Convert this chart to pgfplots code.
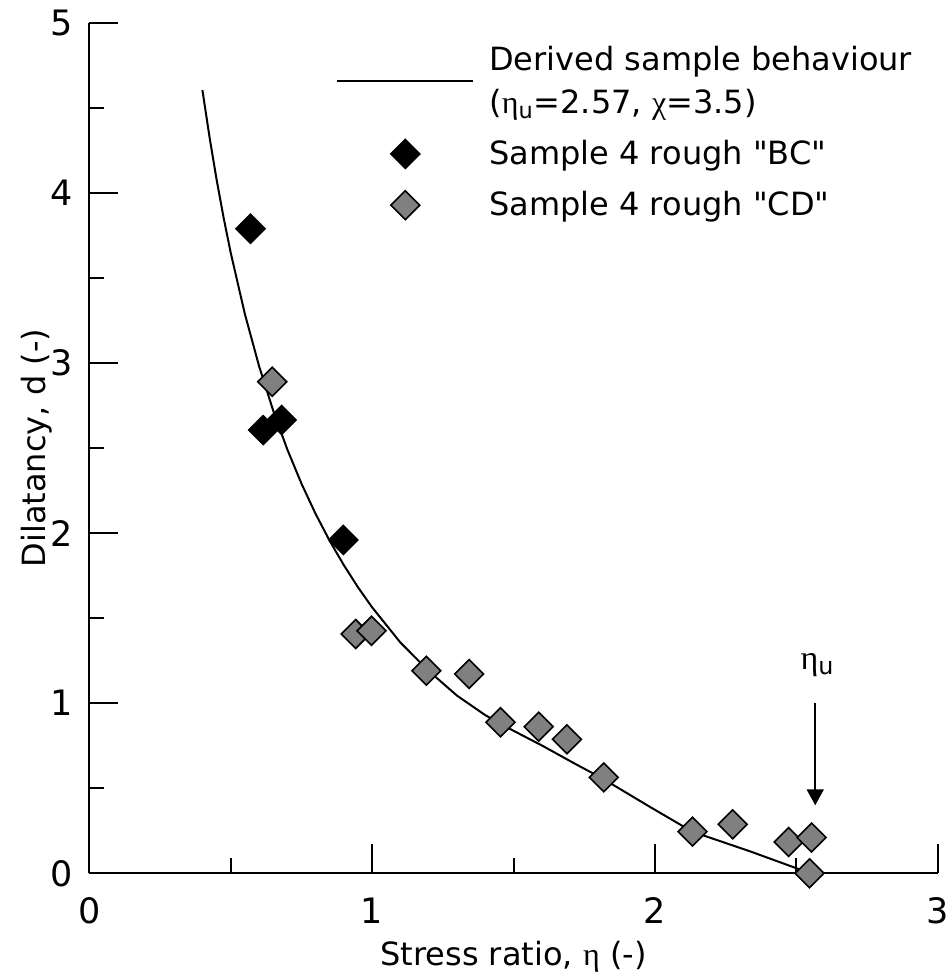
\documentclass[border=0pt]{standalone}
\usepackage{fontspec}
\setmainfont{DejaVu Sans}
\newfontfamily\greek{Liberation Serif}
\usepackage{pgfplots}
\pgfplotsset{compat=1.18}
\usetikzlibrary{arrows.meta}
\definecolor{markgray}{RGB}{128,128,128}
\begin{document}
\begin{tikzpicture}
\path (-44.65pt,-52.85pt) rectangle (430.85pt,436.65pt);
\begin{axis}[
  scale only axis,
  width=424.2pt, height=425.2pt,
  at={(0pt,0pt)}, anchor=south west,
  xmin=0, xmax=3, ymin=0, ymax=5,
  axis x line=bottom, axis y line=left,
  axis line style={-, line width=1pt},
  xtick={0,1,2,3}, ytick={0,1,2,3,4,5},
  minor xtick={0.5,1.5,2.5}, minor ytick={0.5,1.5,2.5,3.5,4.5},
  tick align=inside,
  major tick length=14.5pt, minor tick length=7.5pt,
  tick style={black, line width=1pt},
  font=\fontsize{16}{19.2}\selectfont,
  ticklabel style={font=\fontsize{17.5}{21}\selectfont},
  xticklabel style={anchor=north, inner sep=0pt},
  xticklabel shift=12pt,
  yticklabel style={anchor=east, inner sep=0pt},
  yticklabel shift=8pt,
  ylabel={Dilatancy, d (-)},
  ylabel style={at={(axis description cs:0,0.5)}, anchor=south, inner sep=0pt, yshift=18.15pt},
  clip=false,
  legend style={draw=none, fill=none, inner sep=0pt,
    at={(axis cs:0.872,4.888)}, anchor=north west,
    font=\fontsize{16}{21.3}\selectfont,
    cells={align=left}, nodes={inner sep=2pt},
    row sep=8pt, column sep=5.5pt},
  legend cell align=left,
  /pgf/number format/assume math mode=true,
]
\addplot[black, line width=1pt, mark=none,
  legend image code/.code={\draw[black, line width=1pt] (0.3cm-34pt,0pt) -- (0.3cm+34pt,0pt);}]
coordinates {
(0.400,4.605) (0.425,4.330) (0.450,4.080) (0.475,3.854) (0.500,3.649)
(0.550,3.289) (0.600,2.984) (0.650,2.722) (0.700,2.493) (0.750,2.292)
(0.800,2.114) (0.850,1.955) (0.900,1.812) (0.950,1.682) (1.000,1.564)
(1.100,1.357) (1.200,1.190) (1.300,1.045) (1.400,0.930) (1.500,0.838)
(1.600,0.752) (1.700,0.660) (1.816,0.556) (1.981,0.392) (2.132,0.245)
(2.335,0.130) (2.520,0.018)
};
\addlegendentry{Derived sample behaviour\\({\greek η}\textsubscript{u}=2.57, {\greek χ}=3.5)\rule[-12.4pt]{0pt}{0pt}}

\addplot[only marks, mark=square*, mark size=5.1pt,
  mark options={rotate=45, fill=black, draw=black, line width=0.8pt}]
coordinates {
(0.570,3.79) (0.615,2.606) (0.680,2.665) (0.898,1.96)
};
\addlegendentry{Sample 4 rough \textquotedbl BC\textquotedbl}

\addplot[only marks, mark=square*, mark size=5.1pt,
  mark options={rotate=45, fill=markgray, draw=black, line width=0.8pt}]
coordinates {
(0.647,2.89) (0.942,1.407) (0.998,1.426) (1.192,1.191) (1.343,1.172)
(1.454,0.888) (1.589,0.862) (1.689,0.788) (1.819,0.564) (2.133,0.245)
(2.275,0.288) (2.473,0.184) (2.554,0.210) (2.547,0.0)
};
\addlegendentry{Sample 4 rough \textquotedbl CD\textquotedbl}

\draw[line width=1pt, -{Triangle[width=8.5pt,length=8pt]}] (axis cs:2.567,1.0) -- (axis cs:2.567,0.40);
\node[font=\fontsize{17}{20}\selectfont] at (axis cs:2.575,1.225) {{\greek η}\textsubscript{u}};
\node[anchor=north, inner sep=0pt, font=\fontsize{16}{19.2}\selectfont] at ([yshift=-33.9pt]axis description cs:0.5,0) {Stress ratio, {\greek η} (-)};
\end{axis}
\end{tikzpicture}
\end{document}
